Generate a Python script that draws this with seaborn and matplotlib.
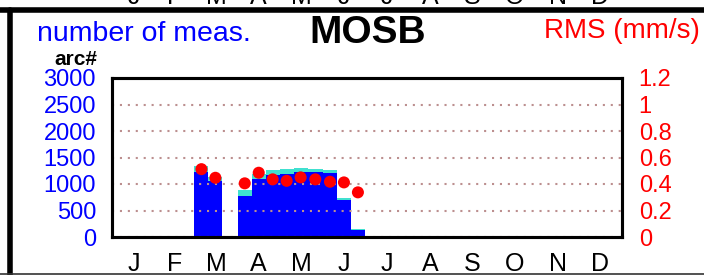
import numpy as np
import pandas as pd
import matplotlib
matplotlib.use("Agg")
import matplotlib.pyplot as plt
import seaborn as sns
from matplotlib.lines import Line2D

# ---------------- data ----------------
month_labels = ['J', 'F', 'M', 'A', 'M', 'J', 'J', 'A', 'S', 'O', 'N', 'D']
month_start_day = [0, 31, 59, 90, 120, 151, 181, 212, 243, 273, 304, 334, 365]
# 10-day bins: month number (1-12) and third of month (0: 1-10, 1: 11-20, 2: 21-end)
bin_month = [3, 3, 4, 4, 4, 5, 5, 5, 6, 6, 6]
bin_part = [0, 1, 0, 1, 2, 0, 1, 2, 0, 1, 2]
total_meas = [1333, 1132, 882, 1195, 1258, 1276, 1308, 1276, 1258, 737, 154]
arc_meas = [1225, 1051, 774, 1101, 1164, 1195, 1225, 1220, 1207, 707, 130]
rms_values = [0.512, 0.447, 0.405, 0.485, 0.435, 0.424, 0.450, 0.435, 0.417, 0.412, 0.337]
left_ticks = [0, 500, 1000, 1500, 2000, 2500, 3000]
right_ticks = [0, 0.2, 0.4, 0.6, 0.8, 1.0, 1.2]
right_tick_labels = ['0', '0.2', '0.4', '0.6', '0.8', '1', '1.2']
top_strip_labels = month_labels

# ---------------- derived bins ----------------
edges = []
for m in range(12):
    s = month_start_day[m]
    edges += [s, s + 10, s + 20]
edges.append(365)


def bin_center(m, p):
    s = month_start_day[m - 1]
    start = s + 10 * p
    end = s + 10 * (p + 1) if p < 2 else month_start_day[m]
    return (start + end) / 2


centers = [bin_center(bm, bp) for bm, bp in zip(bin_month, bin_part)]
df = pd.DataFrame({
    'day': centers,
    'total': total_meas,
    'arc': arc_meas,
    'rms': rms_values,
})

# ---------------- figure ----------------
sns.set_style("white")
plt.rcParams['font.family'] = ['Liberation Sans', 'DejaVu Sans']

W, H = 704, 275
fig = plt.figure(figsize=(W / 100, H / 100), dpi=100)
ax = fig.add_axes([112 / W, (H - 237) / H, 510 / W, 159 / H])

sns.histplot(data=df, x='day', weights='total', bins=edges, color='#40e0d0',
             alpha=1, linewidth=0, element='bars', shrink=1, ax=ax, zorder=1)
sns.histplot(data=df, x='day', weights='arc', bins=edges, color='#0000ff',
             alpha=1, linewidth=0, element='bars', shrink=1, ax=ax, zorder=1.1)

ax.set_xlim(0, 365)
ax.set_ylim(0, 3000)
ax.set_xlabel('')
ax.set_ylabel('')
ax.set_yticks(left_ticks)
ax.set_yticklabels([str(v) for v in left_ticks])
ax.tick_params(axis='y', length=0, pad=11.5, labelsize=17, labelcolor='#0000ff')

ax.set_xticks(month_start_day[:-1])
ax.set_xticklabels([''] * 12)
ax.set_xticks([(month_start_day[i] + month_start_day[i + 1]) / 2 for i in range(12)], minor=True)
ax.set_xticklabels(month_labels, minor=True)
ax.tick_params(axis='x', which='major', length=10.5, width=1.5, color='black', direction='out')
ax.tick_params(axis='x', which='minor', length=0, pad=11, labelsize=18, labelcolor='black')

ax.set_axisbelow(False)
ax.yaxis.grid(True, color='#bc8f8f', linewidth=1.5, linestyle=(0, (1, 2.8)))
ax.xaxis.grid(False)
for sp in ax.spines.values():
    sp.set_linewidth(2.2)
    sp.set_color('black')
    sp.set_visible(True)

ax2 = ax.twinx()
sns.scatterplot(data=df, x='day', y='rms', color='#ff0000', s=75, edgecolor='none',
                ax=ax2, zorder=5)
ax2.set_ylim(0, 1.2)
ax2.set_xlim(0, 365)
ax2.set_ylabel('')
ax2.set_yticks(right_ticks)
ax2.set_yticklabels(right_tick_labels)
ax2.tick_params(axis='y', length=0, pad=12, labelsize=17, labelcolor='#ff0000')
ax2.grid(False)
for sp in ax2.spines.values():
    sp.set_linewidth(2.2)
    sp.set_color('black')

# ---------------- texts ----------------
fig.text(37 / W, 1 - 41 / H, 'number of meas.', color='#0000ff', fontsize=20.5,
         ha='left', va='baseline')
fig.text(368 / W, 1 - 43 / H, 'MOSB', color='black', fontsize=28, fontweight='bold',
         ha='center', va='baseline')
fig.text(700 / W, 1 - 38 / H, 'RMS (mm/s)', color='#ff0000', fontsize=20,
         ha='right', va='baseline')
fig.text(76 / W, 1 - 65 / H, 'arc#', color='black', fontsize=15, fontweight='bold',
         ha='center', va='baseline')

# cut-off month letters of the panel above
for i, lab in enumerate(top_strip_labels):
    xc = 112 + 510 * (month_start_day[i] + month_start_day[i + 1]) / 2 / 365
    fig.text(xc / W, 1 - 4 / H, lab, color='black', fontsize=18, ha='center', va='baseline')

# panel frame
fig.add_artist(Line2D([0, 1], [1 - 10 / H, 1 - 10 / H], color='black', linewidth=4,
                      transform=fig.transFigure))
fig.add_artist(Line2D([9.5 / W, 9.5 / W], [0, 1 - 10 / H], color='black', linewidth=4,
                      transform=fig.transFigure))
fig.add_artist(Line2D([0, 1], [1 - 273.5 / H, 1 - 273.5 / H], color='#333333', linewidth=1.2,
                      transform=fig.transFigure))

fig.savefig('out.png', dpi=100)
